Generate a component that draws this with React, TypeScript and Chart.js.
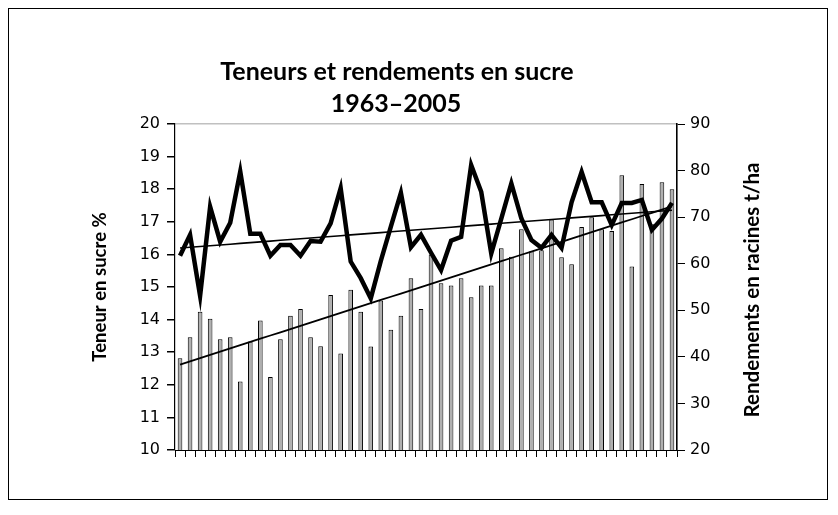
import React, { useEffect, useRef } from "react";
import { Chart, registerables } from "chart.js";

Chart.register(...registerables);

const titleLines = ["Teneurs et rendements en sucre", "1963–2005"];
const leftAxisTitle = "Teneur en sucre %";
const rightAxisTitle = "Rendements en racines t/ha";

const categories = [
  "1956", "1957", "1958", "1959", "1960", "1961", "1962", "1963", "1964", "1965",
  "1966", "1967", "1968", "1969", "1970", "1971", "1972", "1973", "1974", "1975",
  "1976", "1977", "1978", "1979", "1980", "1981", "1982", "1983", "1984", "1985",
  "1986", "1987", "1988", "1989", "1990", "1991", "1992", "1993", "1994", "1995",
  "1996", "1997", "1998", "1999", "2000", "2001", "2002", "2003", "2004", "2005",
];

// Rendements en racines (t/ha) – bars, right axis
const yieldValues = [
  39.7, 44.2, 49.7, 48.2, 43.8, 44.2, 34.7, 43.3, 47.8, 35.7,
  43.8, 48.8, 50.3, 44.2, 42.3, 53.3, 40.7, 54.4, 49.7, 42.2,
  52.1, 45.8, 48.8, 56.9, 50.3, 62.0, 55.8, 55.3, 56.9, 52.8,
  55.3, 55.3, 63.3, 61.5, 67.4, 62.7, 62.9, 69.5, 61.4, 59.9,
  67.9, 70.0, 67.4, 67.0, 79.0, 59.4, 77.1, 68.5, 77.5, 76.0,
];

// Teneur en sucre (%) – line, left axis
const sugarValues = [
  15.96, 16.6, 14.73, 17.46, 16.39, 16.97, 18.54, 16.63, 16.63, 15.96,
  16.29, 16.29, 15.96, 16.41, 16.39, 16.95, 18.03, 15.78, 15.27, 14.65,
  15.8, 16.85, 17.89, 16.22, 16.6, 16.05, 15.52, 16.42, 16.54, 18.74,
  17.92, 16.03, 17.1, 18.18, 17.1, 16.44, 16.2, 16.6, 16.2, 17.6,
  18.53, 17.6, 17.6, 16.9, 17.58, 17.58, 17.67, 16.75, 17.1, 17.58,
];

const leftAxis = { min: 10, max: 20, step: 1 };
const rightAxis = { min: 20, max: 90, step: 10 };

// least-squares linear trend (as the spreadsheet's "linear trendline")
function linearTrend(values: number[]): number[] {
  const n = values.length;
  let sx = 0, sy = 0, sxy = 0, sxx = 0;
  values.forEach((v, i) => {
    sx += i; sy += v; sxy += i * v; sxx += i * i;
  });
  const slope = (n * sxy - sx * sy) / (n * sxx - sx * sx);
  const icpt = (sy - slope * sx) / n;
  return values.map((_, i) => icpt + slope * i);
}

const W = 818;
const H = 490;

const textPlugin = {
  id: "customTexts",
  afterDraw(chart: any) {
    const ctx = chart.ctx as CanvasRenderingContext2D;
    const ca = chart.chartArea;
    const midY = (ca.top + ca.bottom) / 2;
    ctx.save();
    ctx.fillStyle = "#000";
    ctx.textAlign = "center";
    ctx.textBaseline = "middle";
    ctx.font = 'bold 25px "Lato"';
    ctx.fillText(titleLines[0], 388, 63);
    ctx.fillText(titleLines[1], 387, 95);

    ctx.font = 'bold 18.5px "Lato"';
    ctx.save();
    ctx.translate(91, midY);
    ctx.rotate(-Math.PI / 2);
    ctx.fillText(leftAxisTitle, 0, 0);
    ctx.restore();

    ctx.font = 'bold 20.5px "Lato"';
    ctx.save();
    ctx.translate(743, midY + 3);
    ctx.rotate(-Math.PI / 2);
    ctx.fillText(rightAxisTitle, 0, 0);
    ctx.restore();
    ctx.restore();
  },
};

export default function App() {
  const canvasRef = useRef<HTMLCanvasElement | null>(null);

  useEffect(() => {
    if (!canvasRef.current) return;
    const sugarTrend = linearTrend(sugarValues);
    const yieldTrend = linearTrend(yieldValues);
    const tickFont = { family: '"DejaVu Sans"', size: 16 };

    const chart = new Chart(canvasRef.current, {
      type: "bar",
      data: {
        labels: categories,
        datasets: [
          {
            type: "line",
            label: "Teneur en sucre",
            data: sugarValues,
            yAxisID: "y",
            borderColor: "#000",
            borderWidth: 4.5,
            pointRadius: 0,
            tension: 0,
            borderJoinStyle: "miter",
            order: 1,
          } as any,
          {
            type: "line",
            label: "Tendance teneur",
            data: sugarTrend,
            yAxisID: "y",
            borderColor: "#000",
            borderWidth: 1.6,
            pointRadius: 0,
            order: 0,
          } as any,
          {
            type: "line",
            label: "Tendance rendement",
            data: yieldTrend,
            yAxisID: "y1",
            borderColor: "#000",
            borderWidth: 1.8,
            pointRadius: 0,
            order: 0,
          } as any,
          {
            type: "bar",
            label: "Rendements",
            data: yieldValues,
            yAxisID: "y1",
            backgroundColor: "#b0b0b0",
            borderColor: "#000",
            borderWidth: 1,
            barPercentage: 0.46,
            categoryPercentage: 1,
            order: 3,
          } as any,
        ],
      },
      options: {
        animation: false,
        responsive: false,
        devicePixelRatio: 1,
        layout: { padding: { top: 115, left: 0, right: 0, bottom: 0 } },
        plugins: {
          legend: { display: false },
          tooltip: { enabled: false },
          title: { display: false },
        },
        scales: {
          x: {
            type: "category",
            offset: true,
            grid: {
              offset: true,
              drawOnChartArea: false,
              drawTicks: true,
              tickLength: 7,
              color: "#000",
              tickColor: "#000",
            },
            border: { display: true, color: "#000", width: 1 },
            ticks: { display: false, autoSkip: false },
            afterFit: (s: any) => { s.height = 49; },
          },
          y: {
            type: "linear",
            position: "left",
            min: leftAxis.min,
            max: leftAxis.max,
            ticks: { stepSize: leftAxis.step, color: "#000", font: tickFont, padding: 7 },
            grid: {
              drawOnChartArea: true,
              tickLength: 8,
              tickColor: "#000",
              color: (c: any) => (c.tick && c.tick.value === leftAxis.max ? "#c0c0c0" : "rgba(0,0,0,0)"),
              lineWidth: 1.5,
            },
            border: { display: true, color: "#000", width: 1.2 },
            afterFit: (s: any) => { s.width = 166; },
          },
          y1: {
            type: "linear",
            position: "right",
            min: rightAxis.min,
            max: rightAxis.max,
            ticks: { stepSize: rightAxis.step, color: "#000", font: tickFont, padding: 5 },
            grid: { drawOnChartArea: false, tickLength: 8, tickColor: "#000", color: "#000" },
            border: { display: true, color: "#000", width: 1.6 },
            afterFit: (s: any) => { s.width = 150; },
          },
        },
      } as any,
      plugins: [textPlugin],
    });
    return () => chart.destroy();
  }, []);

  return (
    <div style={{ width: W, height: H, border: "1px solid #000", background: "#fff" }}>
      <canvas ref={canvasRef} width={W} height={H} style={{ display: "block", width: W, height: H }} />
    </div>
  );
}
